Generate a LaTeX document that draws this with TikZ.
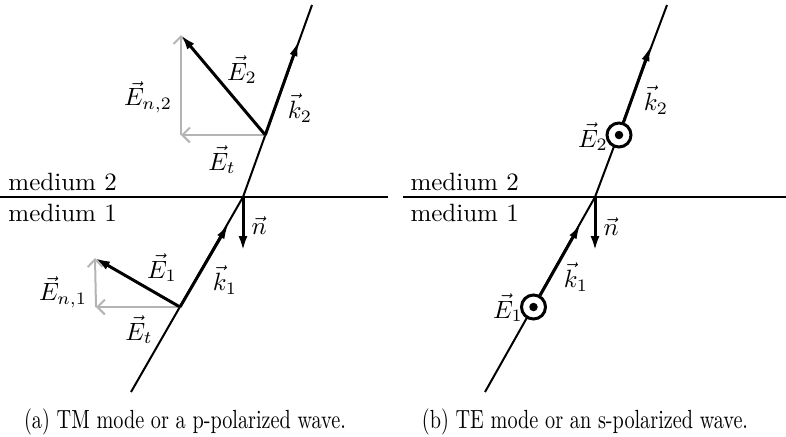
\documentclass[tikz,border=0pt]{standalone}
\usepackage{tikz}
\usetikzlibrary{arrows.meta,calc}
\definecolor{compgray}{HTML}{B4B4B4}

\begin{document}
\begin{tikzpicture}[
  x=0.4pt, y=-0.4pt,
  font=\fontsize{10}{12}\selectfont,
  ray/.style={line width=0.8pt},
  wavevec/.style={line width=1.2pt, -{Latex[length=6.5pt,width=3.2pt]}},
  efield/.style={line width=1.2pt, -{Latex[length=6pt,width=3.6pt]}},
  comp/.style={line width=0.8pt, compgray, -{Straight Barb[length=3pt,width=6pt]}},
  boundary/.style={line width=1pt},
  medlabel/.style={anchor=base west, inner sep=0pt},
  lab/.style={inner sep=0pt},
  outdot/.style={circle, draw, line width=1.2pt, fill=white,
                 minimum size=9.6pt, inner sep=0pt},
  caplabel/.style={anchor=base, inner sep=0pt, font=\fontsize{10.5}{12}\selectfont}
]
\useasboundingbox (0,0) rectangle (786,436);

% ---------- (a) TM mode ----------
\coordinate (oa) at (243,197);
\coordinate (topa) at (312,5);
\coordinate (bota) at (131,392);
\coordinate (p2a) at (265.3,135);
\coordinate (k2a) at (299,40);
\coordinate (p1a) at (180,307);
\coordinate (k1a) at (229,223);
\coordinate (e2a) at (181,35);
\coordinate (c2a) at (181,135);
\coordinate (e1a) at (95,258);
\coordinate (c1a) at (96,307);
\coordinate (na) at (243,251);
\coordinate (lla) at (0,197);
\coordinate (lra) at (388,197);

\draw[boundary] (lla) -- (lra);
\node[medlabel] (m2a) at (8,190) {medium 2};
\node[medlabel] (m1a) at (8,221) {medium 1};

\draw[ray] (bota) -- (oa) -- (topa);
\draw[wavevec] (p2a) -- (k2a);
\draw[wavevec] (p1a) -- (k1a);
\draw[efield] (oa) -- (na);

% field components
\draw[comp] (p2a) -- (c2a);
\draw[comp] (c2a) -- (e2a);
\draw[comp] (p1a) -- (c1a);
\draw[comp] (c1a) -- (e1a);
\draw[efield] (p2a) -- (e2a);
\draw[efield] (p1a) -- (e1a);

\node[lab] (le2a) at (242,70) {$\vec E_2$};
\node[lab] (lk2a) at (300,108) {$\vec k_2$};
\node[lab] (len2a) at (148,97) {$\vec E_{n,2}$};
\node[lab] (let2a) at (222,160) {$\vec E_t$};
\node[lab] (lna) at (259,226) {$\vec n$};
\node[lab] (le1a) at (162,268) {$\vec E_1$};
\node[lab] (lk1a) at (225,280) {$\vec k_1$};
\node[lab] (len1a) at (63,292) {$\vec E_{n,1}$};
\node[lab] (let1a) at (139,330) {$\vec E_t$};

\node[caplabel] (capa) at (185,428) {\scalebox{0.77}[1]{(a) TM mode or a p-polarized wave.}};

% ---------- (b) TE mode ----------
\coordinate (ob) at (595,197);
\coordinate (topb) at (667,5);
\coordinate (botb) at (485,392);
\coordinate (k2b) at (651,45);
\coordinate (k1b) at (581,223);
\coordinate (nb) at (595,251);
\coordinate (llb) at (403,197);
\coordinate (lrb) at (786,197);

\draw[boundary] (llb) -- (lrb);
\node[medlabel] (m2b) at (410,190) {medium 2};
\node[medlabel] (m1b) at (410,221) {medium 1};

\draw[ray] (botb) -- (ob) -- (topb);
\node[outdot] (e2b) at (619,135) {};
\node[outdot] (e1b) at (533.5,307) {};
\fill (e2b.center) circle[radius=1.7pt];
\fill (e1b.center) circle[radius=1.7pt];
\draw[wavevec] (e2b) -- (k2b);
\draw[wavevec] (e1b) -- (k1b);
\draw[efield] (ob) -- (nb);

\node[lab] (le2b) at (593,137) {$\vec E_2$};
\node[lab] (lk2b) at (656,100) {$\vec k_2$};
\node[lab] (lnb) at (611,227) {$\vec n$};
\node[lab] (lk1b) at (576,277) {$\vec k_1$};
\node[lab] (le1b) at (508,308) {$\vec E_1$};

\node[caplabel] (capb) at (585,428) {\scalebox{0.77}[1]{(b) TE mode or an s-polarized wave.}};
\end{tikzpicture}
\end{document}
